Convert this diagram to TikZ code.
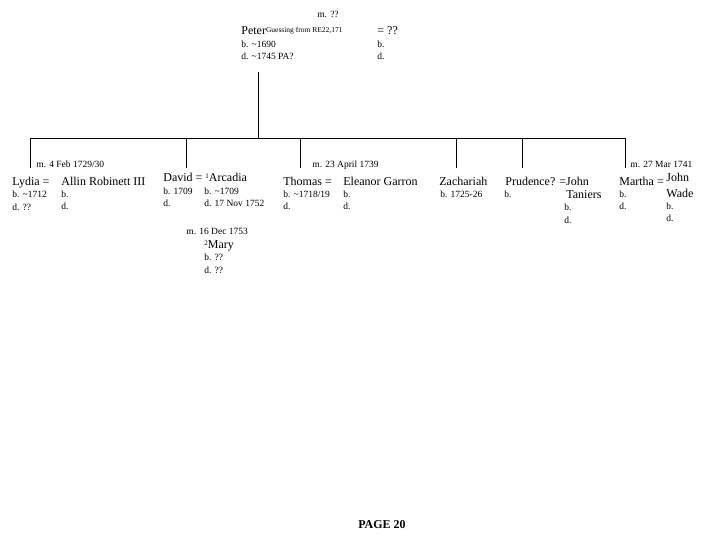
\documentclass[tikz,border=0pt]{standalone}
\usepackage{fontspec}
\setmainfont{Liberation Serif}
\usepackage{tikz}

\newcommand{\apx}{\textasciitilde}

\begin{document}
\begin{tikzpicture}[x=1pt, y=-1pt, thick, color=black,
		person/.style={anchor=base west, inner sep=0pt, font=\fontsize{12}{12}\selectfont},
		facts/.style={anchor=base west, inner sep=0pt, font=\fontsize{9.5}{9.5}\selectfont}]
		\useasboundingbox (0,0) rectangle (720,540);

		% parents
		\node[facts, anchor=base] (wedding) at (328,18) {m. ??};
		\node[person] (peter) at (241,35) {Peter\raisebox{2.5pt}{\fontsize{7.5}{7.5}\selectfont Guessing from RE22,171}};
		\node[person] (wife) at (377,35) {= ??};
		\node[facts] (peterb) at (241,48) {b. \apx1690};
		\node[facts] (peterd) at (241,60) {d. \apx1745 PA?};
		\node[facts] (wifeb) at (377,48) {b.};
		\node[facts] (wifed) at (377,60) {d.};

		% lines
		\coordinate (stem) at (258,72);
		\coordinate (busmid) at (258,138);
		\coordinate (busL) at (30,138);
		\coordinate (busR) at (625,138);
		\draw (stem) -- (busmid);
		\draw (busL) -- (busR);
		\coordinate (topA) at (30,138);  \coordinate (endA) at (30,168);
		\coordinate (topB) at (186,138); \coordinate (endB) at (186,168);
		\coordinate (topC) at (300,138); \coordinate (endC) at (300,168);
		\coordinate (topD) at (456,138); \coordinate (endD) at (456,168);
		\coordinate (topE) at (522,138); \coordinate (endE) at (522,168);
		\coordinate (topF) at (625,138); \coordinate (endF) at (625,168);
		\draw (topA) -- (endA);
		\draw (topB) -- (endB);
		\draw (topC) -- (endC);
		\draw (topD) -- (endD);
		\draw (topE) -- (endE);
		\draw (topF) -- (endF);

		% Lydia
		\node[facts] (lydiam) at (36,168) {m. 4 Feb 1729/30};
		\node[person] (lydia) at (12,186) {Lydia =};
		\node[person] (allin) at (61,186) {Allin Robinett III};
		\node[facts] (lydiab) at (12,198) {b. \apx1712};
		\node[facts] (lydiad) at (12,211) {d. ??};
		\node[facts] (allinb) at (61,198) {b.};
		\node[facts] (allind) at (61,210) {d.};

		% David
		\node[person] (david) at (163,182) {David = \raisebox{3pt}{\fontsize{7}{7}\selectfont 1}Arcadia};
		\node[facts] (davidb) at (163,195) {b. 1709};
		\node[facts] (davidd) at (163,207) {d.};
		\node[facts] (arcadiab) at (204,195) {b. \apx1709};
		\node[facts] (arcadiad) at (204,207) {d. 17 Nov 1752};
		\node[facts] (marym) at (186,235) {m. 16 Dec 1753};
		\node[person] (mary) at (204,248) {\raisebox{3pt}{\fontsize{7}{7}\selectfont 2}Mary};
		\node[facts] (maryb) at (204,260) {b. ??};
		\node[facts] (maryd) at (204,273) {d. ??};

		% Thomas
		\node[facts] (thomasm) at (312,168) {m. 23 April 1739};
		\node[person] (thomas) at (283,186) {Thomas =};
		\node[person] (eleanor) at (343,186) {Eleanor Garron};
		\node[facts] (thomasb) at (283,198) {b. \apx1718/19};
		\node[facts] (thomasd) at (283,210) {d.};
		\node[facts] (eleanorb) at (343,198) {b.};
		\node[facts] (eleanord) at (343,210) {d.};

		% Zachariah
		\node[person] (zachariah) at (439,186) {Zachariah};
		\node[facts] (zachariahb) at (440,198) {b. 1725-26};

		% Prudence
		\node[person] (prudence) at (505,186) {Prudence? =John};
		\node[facts] (prudenceb) at (504,198) {b.};
		\node[person] (taniers) at (566,199) {Taniers};
		\node[facts] (taniersb) at (564,211) {b.};
		\node[facts] (taniersd) at (564,223) {d.};

		% Martha
		\node[facts] (martham) at (630,168) {m. 27 Mar 1741};
		\node[person] (martha) at (619,186) {Martha =};
		\node[person] (john) at (666,182) {John};
		\node[person] (wade) at (666,197) {Wade};
		\node[facts] (marthab) at (619,198) {b.};
		\node[facts] (marthad) at (619,210) {d.};
		\node[facts] (johnb) at (666,210) {b.};
		\node[facts] (johnd) at (666,222) {d.};

		\node[person, anchor=base, font=\fontsize{12}{12}\selectfont\bfseries] (page) at (382,528) {PAGE 20};
	\end{tikzpicture}
\end{document}
